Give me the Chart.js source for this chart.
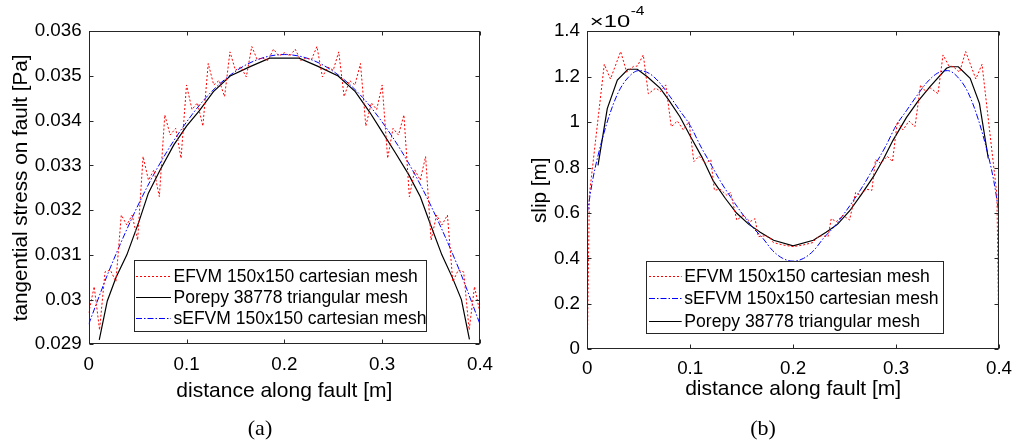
<!DOCTYPE html>
<html><head><meta charset="utf-8">
<script src="https://cdn.jsdelivr.net/npm/chart.js@4.4.0/dist/chart.umd.min.js"></script>
<style>
html,body{margin:0;padding:0;background:#fff;}
#wrap{position:relative;width:1016px;height:444px;overflow:hidden;background:#fff;}
canvas{position:absolute;top:0;}
#c1{left:0;} #c2{left:508px;}
.cap{position:absolute;font-family:"Liberation Serif","Times New Roman",serif;font-size:22px;color:#000;transform:translate(-50%,-50%);white-space:nowrap;}
</style></head><body>
<div id="wrap">
<canvas id="c1" width="508" height="444" style="width:508px;height:444px"></canvas>
<canvas id="c2" width="508" height="444" style="width:508px;height:444px"></canvas>
<div class="cap" style="left:260px;top:428px">(a)</div>
<div class="cap" style="left:763px;top:428px">(b)</div>
</div>
<script>
// ---------- shared axis ----------
const xTicks = [0, 0.1, 0.2, 0.3, 0.4];
const xTickLabels = ['0', '0.1', '0.2', '0.3', '0.4'];

// ---------- (a) tangential stress ----------
const stressYTicks = [0.029, 0.030, 0.031, 0.032, 0.033, 0.034, 0.035, 0.036];
const stressYTickLabels = ['0.029', '0.03', '0.031', '0.032', '0.033', '0.034', '0.035', '0.036'];

const efvmStressX = [0, 0.0056, 0.0111, 0.0167, 0.0222, 0.0278, 0.0333, 0.0389, 0.0444, 0.05,
  0.0556, 0.0611, 0.0667, 0.0722, 0.0778, 0.0833, 0.0889, 0.0944, 0.1, 0.1056,
  0.1111, 0.1167, 0.1222, 0.1278, 0.1333, 0.1389, 0.1444, 0.15, 0.1556, 0.1611,
  0.1667, 0.1722, 0.1778, 0.1833, 0.1889, 0.1944, 0.2, 0.2056, 0.2111, 0.2167,
  0.2222, 0.2278, 0.2333, 0.2389, 0.2444, 0.25, 0.2556, 0.2611, 0.2667, 0.2722,
  0.2778, 0.2833, 0.2889, 0.2944, 0.3, 0.3056, 0.3111, 0.3167, 0.3222, 0.3278,
  0.3333, 0.3389, 0.3444, 0.35, 0.3556, 0.3611, 0.3667, 0.3722, 0.3778, 0.3833,
  0.3889, 0.3944, 0.4];
const efvmStressY = [0.02970, 0.03029, 0.02932, 0.03062, 0.03066, 0.03040, 0.03189, 0.03167, 0.03189, 0.03133,
  0.03320, 0.03267, 0.03290, 0.03230, 0.03413, 0.03368, 0.03383, 0.03316, 0.03480, 0.03425,
  0.03440, 0.03388, 0.03528, 0.03480, 0.03490, 0.03454, 0.03554, 0.03513, 0.03520, 0.03498,
  0.03566, 0.03537, 0.03540, 0.03535, 0.03560, 0.03545, 0.03552, 0.03545, 0.03560, 0.03535,
  0.03540, 0.03537, 0.03566, 0.03498, 0.03520, 0.03513, 0.03554, 0.03454, 0.03490, 0.03480,
  0.03528, 0.03388, 0.03440, 0.03425, 0.03480, 0.03316, 0.03383, 0.03368, 0.03413, 0.03230,
  0.03290, 0.03267, 0.03320, 0.03133, 0.03189, 0.03167, 0.03189, 0.03040, 0.03066, 0.03062,
  0.02932, 0.03029, 0.02970];

const porepyStressX = [0.0108, 0.019, 0.028, 0.039, 0.051, 0.061, 0.073, 0.087, 0.1, 0.113,
  0.1275, 0.1446, 0.165, 0.185, 0.215, 0.235, 0.255, 0.2725, 0.287, 0.3,
  0.313, 0.327, 0.339, 0.349, 0.361, 0.372, 0.381, 0.3892];
const porepyStressY = [0.02910, 0.02997, 0.03050, 0.03100, 0.03172, 0.03238, 0.03290, 0.03346, 0.03388, 0.03422,
  0.03465, 0.03500, 0.03521, 0.03540, 0.03540, 0.03521, 0.03500, 0.03465, 0.03420, 0.03375,
  0.03330, 0.03280, 0.03230, 0.03170, 0.03100, 0.03048, 0.03000, 0.02911];

const sefvmStressX = [0, 0.02, 0.04, 0.06, 0.08, 0.1, 0.12, 0.14, 0.16, 0.18, 0.2,
  0.22, 0.24, 0.26, 0.28, 0.3, 0.32, 0.34, 0.36, 0.38, 0.4];
const sefvmStressY = [0.02945, 0.03060, 0.03162, 0.03253, 0.03331, 0.03397, 0.03452, 0.03494, 0.03524, 0.03542, 0.03548,
  0.03542, 0.03524, 0.03494, 0.03452, 0.03397, 0.03331, 0.03253, 0.03162, 0.03060, 0.02945];

// ---------- (b) slip (values in units of 1e-4 m) ----------
const slipYTicks = [0, 0.2, 0.4, 0.6, 0.8, 1.0, 1.2, 1.4];
const slipYTickLabels = ['0', '0.2', '0.4', '0.6', '0.8', '1', '1.2', '1.4'];

const efvmSlipX = [0, 0.002, 0.0165, 0.0225, 0.0324, 0.0383, 0.0447, 0.0486, 0.0544, 0.0593,
  0.0665, 0.0713, 0.0762, 0.0816, 0.0875, 0.0933, 0.0988, 0.1035, 0.1085, 0.115,
  0.12, 0.1235, 0.1289, 0.1354, 0.1393, 0.1452, 0.1516, 0.1581, 0.163, 0.1661,
  0.1727, 0.1775, 0.1807, 0.1904, 0.2,
  0.2096, 0.2193, 0.2225, 0.2273, 0.2339, 0.237, 0.2419, 0.2484, 0.2548, 0.2607,
  0.2646, 0.2711, 0.2765, 0.28, 0.285, 0.2915, 0.2965, 0.3012, 0.3067, 0.3125,
  0.3184, 0.3238, 0.3287, 0.3335, 0.3407, 0.3456, 0.3514, 0.3553, 0.3617, 0.3676,
  0.3775, 0.3835, 0.398, 0.4];
const efvmSlipY = [0, 0.68, 1.255, 1.19, 1.311, 1.22, 1.245, 1.247, 1.296, 1.125,
  1.15, 1.135, 1.164, 0.98, 1.005, 0.966, 1.002, 0.826, 0.85, 0.819,
  0.835, 0.70, 0.705, 0.679, 0.69, 0.569, 0.59, 0.562, 0.575, 0.496,
  0.50, 0.49, 0.47, 0.459, 0.452,
  0.459, 0.47, 0.49, 0.50, 0.496, 0.575, 0.562, 0.59, 0.569, 0.69,
  0.679, 0.705, 0.70, 0.835, 0.819, 0.85, 0.826, 1.002, 0.966, 1.005,
  0.98, 1.164, 1.135, 1.15, 1.125, 1.296, 1.247, 1.245, 1.22, 1.311,
  1.19, 1.255, 0.68, 0];

const sefvmSlipX = [0, 0.005, 0.01, 0.02, 0.03, 0.04, 0.05, 0.06, 0.07, 0.08, 0.09,
  0.1, 0.11, 0.12, 0.13, 0.14, 0.15, 0.16, 0.17, 0.18, 0.19, 0.2,
  0.21, 0.22, 0.23, 0.24, 0.25, 0.26, 0.27, 0.28, 0.29, 0.3,
  0.31, 0.32, 0.33, 0.34, 0.35, 0.36, 0.37, 0.38, 0.39, 0.395, 0.4];
const sefvmSlipY = [0.60, 0.74, 0.845, 1.01, 1.13, 1.198, 1.227, 1.215, 1.175, 1.115, 1.05,
  0.985, 0.895, 0.815, 0.735, 0.665, 0.60, 0.54, 0.492, 0.435, 0.40, 0.388,
  0.40, 0.435, 0.492, 0.54, 0.60, 0.665, 0.735, 0.815, 0.895, 0.985,
  1.05, 1.115, 1.175, 1.215, 1.227, 1.198, 1.13, 1.01, 0.845, 0.74, 0.60];

const porepySlipX = [0.0104, 0.0194, 0.0292, 0.0395, 0.0486, 0.0583, 0.0707, 0.0787, 0.09, 0.1005,
  0.1115, 0.1225, 0.134, 0.145, 0.157, 0.168, 0.181, 0.2, 0.2196, 0.232,
  0.243, 0.255, 0.266, 0.278, 0.288, 0.297, 0.31, 0.321, 0.333, 0.349,
  0.3524, 0.3605, 0.372, 0.381, 0.3896];
const porepySlipY = [0.81, 1.06, 1.185, 1.233, 1.233, 1.20, 1.15, 1.10, 1.024, 0.935,
  0.845, 0.74, 0.665, 0.60, 0.55, 0.515, 0.48, 0.455, 0.48, 0.515,
  0.55, 0.61, 0.68, 0.76, 0.84, 0.92, 1.02, 1.09, 1.156, 1.237,
  1.244, 1.244, 1.193, 1.083, 0.84];

// ---------- helpers ----------
const FONT = '"Liberation Sans", Arial, Helvetica, sans-serif';
const pts = (xs, ys) => xs.map((x, i) => ({x: x, y: ys[i]}));

const STYLE_EFVM = {borderColor: 'rgb(255,0,0)', borderWidth: 1, borderDash: [2, 2]};
const STYLE_POREPY = {borderColor: '#000000', borderWidth: 1.2, borderDash: []};
const STYLE_SEFVM = {borderColor: 'rgb(0,0,255)', borderWidth: 1, borderDash: [6, 2, 1.5, 2]};

function ds(label, data, style, extra) {
  return Object.assign({label: label, data: data, pointRadius: 0, fill: false, tension: 0,
    borderCapStyle: 'butt'}, style, extra || {});
}

const framePlugin = {
  id: 'frame',
  afterDatasetsDraw(chart) {
    const {ctx, chartArea: a, scales: {x, y}} = chart;
    ctx.save();
    ctx.strokeStyle = '#262626'; ctx.lineWidth = 1; ctx.setLineDash([]);
    const L = Math.round(a.left) + 0.5, R = Math.round(a.right) - 0.5;
    const T = Math.round(a.top) + 0.5, B = Math.round(a.bottom) - 0.5;
    ctx.strokeRect(L, T, R - L, B - T);
    const tl = 4;
    ctx.beginPath();
    x.ticks.forEach(t => {
      const px = Math.round(x.getPixelForValue(t.value)) + 0.5;
      ctx.moveTo(px, B); ctx.lineTo(px, B - tl);
      ctx.moveTo(px, T); ctx.lineTo(px, T + tl);
    });
    y.ticks.forEach(t => {
      const py = Math.round(y.getPixelForValue(t.value)) + 0.5;
      ctx.moveTo(L, py); ctx.lineTo(L + tl, py);
      ctx.moveTo(R, py); ctx.lineTo(R - tl, py);
    });
    ctx.stroke();
    ctx.restore();
  }
};

function legendPlugin(cfg) {
  return {
    id: 'boxLegend',
    afterDraw(chart) {
      const ctx = chart.ctx;
      const [x1, y1, x2, y2] = cfg.box;
      ctx.save();
      ctx.fillStyle = '#fff';
      ctx.fillRect(x1, y1, x2 - x1, y2 - y1);
      ctx.strokeStyle = '#262626'; ctx.lineWidth = 1; ctx.setLineDash([]);
      ctx.strokeRect(Math.round(x1) + 0.5, Math.round(y1) + 0.5, Math.round(x2 - x1), Math.round(y2 - y1));
      cfg.order.forEach((di, k) => {
        const o = chart.getDatasetMeta(di).dataset.options;
        const d = chart.data.datasets[di];
        const yy = Math.round(cfg.rows[k]);
        ctx.setLineDash(o.borderDash || []);
        ctx.strokeStyle = o.borderColor; ctx.lineWidth = o.borderWidth;
        ctx.beginPath(); ctx.moveTo(cfg.lineX[0], yy + 0.5); ctx.lineTo(cfg.lineX[1], yy + 0.5); ctx.stroke();
        ctx.setLineDash([]);
        ctx.fillStyle = '#000'; ctx.font = cfg.fontSize + 'px ' + FONT;
        ctx.textBaseline = 'middle'; ctx.textAlign = 'left';
        ctx.fillText(d.label, cfg.textX, yy + 1);
      });
      ctx.restore();
    }
  };
}

const expPlugin = {
  id: 'expLabel',
  afterDraw(chart) {
    const ctx = chart.ctx, a = chart.chartArea;
    ctx.save();
    ctx.fillStyle = '#000'; ctx.textAlign = 'left'; ctx.textBaseline = 'alphabetic';
    const x0 = a.left + 2.5;
    ctx.font = '17px ' + FONT;
    const base = '\u00d710';
    const w = ctx.measureText(base).width * 1.4;
    ctx.save(); ctx.translate(x0, a.top - 4.5); ctx.scale(1.4, 1); ctx.fillText(base, 0, 0); ctx.restore();
    ctx.font = '13px ' + FONT;
    ctx.save(); ctx.translate(x0 + w + 0.5, a.top - 16.5); ctx.scale(1.2, 1); ctx.fillText('-4', 0, 0); ctx.restore();
    ctx.restore();
  }
};

function makeChart(id, cfg) {
  return new Chart(document.getElementById(id), {
    type: 'line',
    data: {datasets: cfg.datasets},
    options: {
      responsive: false, animation: false, devicePixelRatio: 1,
      layout: {padding: cfg.padding},
      plugins: {legend: {display: false}, tooltip: {enabled: false}},
      scales: {
        x: {
          type: 'linear', min: 0, max: 0.4,
          afterBuildTicks: s => { s.ticks = xTicks.map(v => ({value: v})); },
          afterFit: s => { s.height = cfg.xAxisH; s.paddingLeft = 0; s.paddingRight = 0; },
          grid: {display: false, drawTicks: false}, border: {display: false},
          ticks: {padding: cfg.xTickPad, color: '#000', font: {family: FONT, size: 18.8},
            maxRotation: 0, minRotation: 0, autoSkip: false,
            callback: (v, i) => xTickLabels[i]},
          title: {display: true, text: 'distance along fault [m]', color: '#000',
            font: {family: FONT, size: 21}, padding: 0}
        },
        y: {
          type: 'linear', min: cfg.yMin, max: cfg.yMax,
          afterBuildTicks: s => { s.ticks = cfg.yTicks.map(v => ({value: v})); },
          afterFit: s => { s.width = cfg.yAxisW; s.paddingTop = 0; s.paddingBottom = 0; },
          grid: {display: false, drawTicks: false}, border: {display: false},
          ticks: {padding: cfg.yTickPad, color: '#000', font: {family: FONT, size: 18.8}, autoSkip: false,
            callback: (v, i) => cfg.yTickLabels[i]},
          title: {display: true, text: cfg.yTitle, color: '#000',
            font: {family: FONT, size: 20.7}, padding: 0}
        }
      }
    },
    plugins: [framePlugin, legendPlugin(cfg.legend)].concat(cfg.extraPlugins || [])
  });
}

// ---------- chart (a) ----------
makeChart('c1', {
  datasets: [
    ds('EFVM 150x150 cartesian mesh', pts(efvmStressX, efvmStressY), STYLE_EFVM),
    ds('Porepy 38778 triangular mesh', pts(porepyStressX, porepyStressY), STYLE_POREPY),
    ds('sEFVM 150x150 cartesian mesh', pts(sefvmStressX, sefvmStressY), STYLE_SEFVM, {cubicInterpolationMode: 'monotone'})
  ],
  padding: {left: 8.6, right: 28, top: 31.3, bottom: 40},
  yAxisW: 80.1, xAxisH: 59.7, xTickPad: 9.5, yTickPad: 7,
  yMin: 0.029, yMax: 0.036, yTicks: stressYTicks, yTickLabels: stressYTickLabels,
  yTitle: 'tangential stress on fault [Pa]',
  legend: {box: [134.3, 260, 426.7, 331], rows: [276, 297, 318.3], lineX: [136, 171], textX: 173.5, fontSize: 17.5, order: [0, 1, 2]}
});

// ---------- chart (b) ----------
makeChart('c2', {
  datasets: [
    ds('EFVM 150x150 cartesian mesh', pts(efvmSlipX, efvmSlipY), STYLE_EFVM),
    ds('sEFVM 150x150 cartesian mesh', pts(sefvmSlipX, sefvmSlipY), STYLE_SEFVM, {cubicInterpolationMode: 'monotone'}),
    ds('Porepy 38778 triangular mesh', pts(porepySlipX, porepySlipY), STYLE_POREPY)
  ],
  padding: {left: 19.6, right: 17, top: 31.3, bottom: 42},
  yAxisW: 59.7, xAxisH: 52.7, xTickPad: 7.8, yTickPad: 7.3,
  yMin: 0, yMax: 1.4, yTicks: slipYTicks, yTickLabels: slipYTickLabels,
  yTitle: 'slip [m]',
  legend: {box: [137.7, 261, 434.3, 333.3], rows: [276, 298.3, 320.7], lineX: [141, 173.7], textX: 176.3, fontSize: 17.6, order: [0, 1, 2]},
  extraPlugins: [expPlugin]
});
</script>
</body></html>
